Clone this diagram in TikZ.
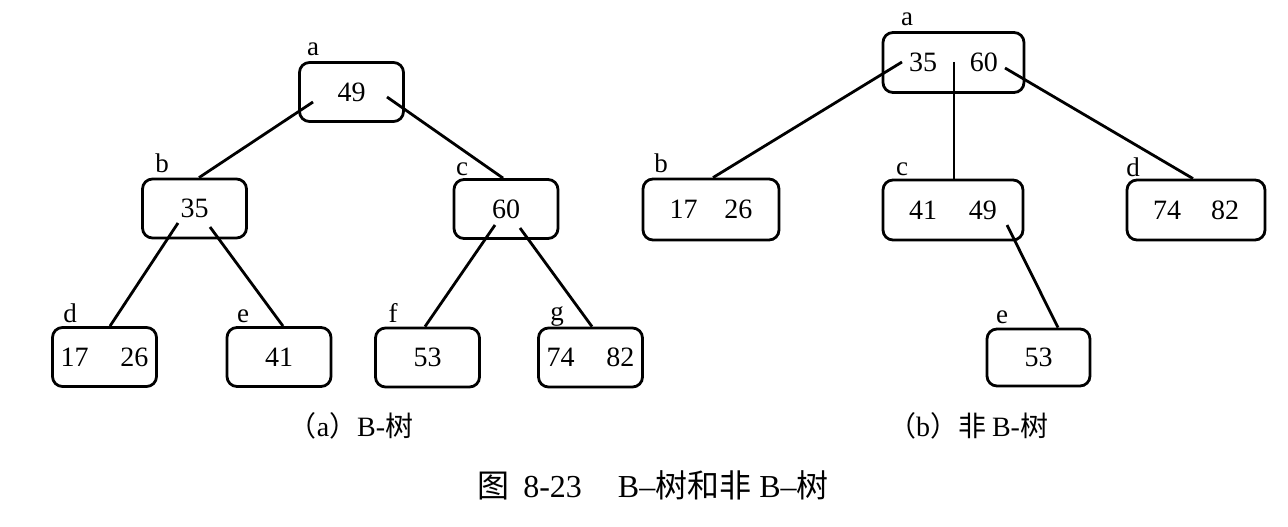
\documentclass[tikz,border=0pt]{standalone}
\usepackage{fontspec}
\setmainfont{Liberation Serif}
\newfontfamily\cjk{Noto Sans CJK SC}
\usetikzlibrary{calc}
\begin{document}
\begin{tikzpicture}[x=1pt,y=-1pt,
  box/.style={draw, line width=2.8pt, rounded corners=10pt, minimum height=59pt,
    inner sep=0pt, font=\fontsize{28}{30}\selectfont},
  sbox/.style={box, minimum width=104pt},
  wbox/.style={box, minimum width=139pt, minimum height=60pt},
  lbl/.style={anchor=base, inner sep=0pt, font=\fontsize{27}{30}\selectfont},
  captxt/.style={anchor=base, inner sep=0pt, font=\fontsize{28}{30}\selectfont},
  ttl/.style={anchor=base, inner sep=0pt, font=\fontsize{32}{36}\selectfont},
  edge/.style={line width=2.8pt}]
\useasboundingbox (0,0) rectangle (1288,527);
% ---------- tree (a) ----------
\node[sbox] (A) at (351.5,92) {49};
\node[sbox] (B) at (194.5,208.5) {35};
\node[sbox] (C) at (506,209) {60};
\node[sbox] (D) at (104.5,357) {17\hspace{32pt}26};
\node[sbox] (E) at (279,357) {41};
\node[sbox] (F) at (427.5,357.5) {53};
\node[sbox] (G) at (590.5,357.5) {74\hspace{32pt}82};
\node[lbl] (la) at (313,56) {a};
\node[lbl] (lb) at (162,172) {b};
\node[lbl] (lc) at (462,175) {c};
\node[lbl] (ld) at (70,322) {d};
\node[lbl] (le) at (243,322) {e};
\node[lbl] (lf) at (393,322) {f};
\node[lbl] (lg) at (557,320) {g};
\draw[edge] ($(A)+(-38.5,10)$) -- ($(B.north)+(4.5,0)$);
\draw[edge] ($(A)+(35.5,5)$) -- ($(C.north)+(-3,0)$);
\draw[edge] ($(B)+(-16.5,14.5)$) -- ($(D.north)+(5.5,0)$);
\draw[edge] ($(B)+(15.5,18.5)$) -- ($(E.north)+(4,0)$);
\draw[edge] ($(C)+(-11,16)$) -- ($(F.north)+(-2.5,0)$);
\draw[edge] ($(C)+(14,19)$) -- ($(G.north)+(1.5,0)$);
% ---------- tree (b) ----------
\node[wbox, minimum width=141pt] (P) at (953.5,62.5) {35\hspace{33pt}60};
\node[wbox, minimum width=136pt, minimum height=61pt] (Q) at (711,209.5) {17\hspace{27pt}26};
\node[wbox, minimum width=140pt] (R) at (953,210) {41\hspace{32pt}49};
\node[wbox, minimum width=138pt] (S) at (1196,210) {74\hspace{30pt}82};
\node[sbox, minimum width=103pt, minimum height=57pt] (T) at (1038.5,357.5) {53};
\node[lbl] (pa) at (907,26) {a};
\node[lbl] (pb) at (661,172) {b};
\node[lbl] (pc) at (902,175) {c};
\node[lbl] (pd) at (1133,176) {d};
\node[lbl] (pe) at (1002,323) {e};
\draw[edge] ($(P)+(-51.5,-0.5)$) -- ($(Q.north)+(2,0)$);
\draw[edge] ($(P)+(0.5,-0.5)$) -- ($(R.north)+(1,0)$);
\draw[edge] ($(P)+(51.5,5.5)$) -- ($(S.north)+(-3,0)$);
\draw[edge] ($(R)+(54,15)$) -- ($(T.north)+(19.5,0)$);
% ---------- captions ----------
\node[captxt] (capa) at (351,436) {{\cjk （}a{\cjk ）}B-{\cjk 树}};
\node[captxt] (capb) at (968,436) {{\cjk （}b{\cjk ）}{\cjk 非}\hspace{6pt}B-{\cjk 树}};
\node[ttl] (title) at (653,497) {{\cjk 图}\hspace{14pt}8-23\hspace{36pt}B–{\cjk 树和非}\hspace{8pt}B–{\cjk 树}};
\end{tikzpicture}
\end{document}
